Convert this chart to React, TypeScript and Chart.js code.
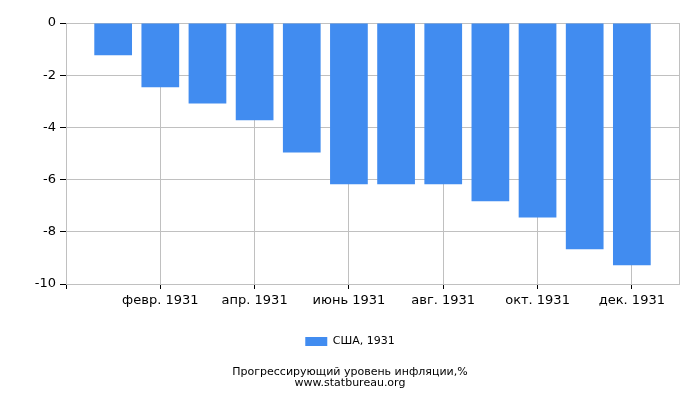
import { useEffect, useRef } from "react"
import { Chart, registerables } from "chart.js"

Chart.register(...registerables)

// monthly progressive inflation, USA 1931
const months = [
  "янв. 1931", "февр. 1931", "март 1931", "апр. 1931", "май 1931", "июнь 1931",
  "июль 1931", "авг. 1931", "сент. 1931", "окт. 1931", "нояб. 1931", "дек. 1931",
]
const inflation = [-1.24, -2.46, -3.08, -3.73, -4.96, -6.18, -6.18, -6.18, -6.83, -7.45, -8.67, -9.28]
const seriesName = "США, 1931"
const titleLines = ["Прогрессирующий уровень инфляции,%", "www.statbureau.org"]

const GRID = "#c0c0c0"
const FONT = "DejaVu Sans"

export default function App() {
  const chartRef = useRef<HTMLCanvasElement>(null)
  const chartInstance = useRef<Chart | null>(null)

  useEffect(() => {
    if (!chartRef.current) return
    if (chartInstance.current) chartInstance.current.destroy()
    const ctx = chartRef.current.getContext("2d")
    if (!ctx) return

    // empty slot on each side, like the original time axis
    const labels = ["", ...months, ""]
    const values = [null, ...inflation, null]
    const last = labels.length - 1

    chartInstance.current = new Chart(ctx, {
      type: "bar",
      data: {
        labels,
        datasets: [
          {
            label: seriesName,
            data: values,
            backgroundColor: "#418cf0",
            borderWidth: 0,
            barPercentage: 0.8,
            categoryPercentage: 1,
          },
        ],
      },
      options: {
        animation: false,
        responsive: false,
        layout: { padding: { left: 0, right: 0, top: 23, bottom: 0 } },
        scales: {
          x: {
            offset: false,
            border: { color: GRID },
            grid: {
              offset: false,
              tickLength: 5,
              color: (c) => (c.index !== 0 && (c.index % 2 === 0 || c.index === last) ? GRID : "rgba(0,0,0,0)"),
              tickColor: (c) => (c.index % 2 === 0 && c.index < last ? "#000" : "rgba(0,0,0,0)"),
            },
            ticks: {
              autoSkip: false,
              maxRotation: 0,
              padding: 4,
              color: "#000",
              font: { family: FONT, size: 13 },
              callback: (_v, i) => (i % 2 === 0 && i > 0 && i < last ? labels[i] : ""),
            },
            afterFit: (scale) => {
              scale.height = 42
            },
          },
          y: {
            min: -10,
            max: 0,
            border: { color: GRID },
            grid: { color: GRID, tickLength: 6, tickColor: "#000" },
            ticks: {
              stepSize: 2,
              padding: 4,
              color: "#000",
              font: { family: FONT, size: 13 },
            },
            afterFit: (scale) => {
              scale.width = 66
            },
          },
          // empty right axis, only to keep the right margin
          yRight: {
            position: "right",
            display: true,
            grid: { display: false, drawTicks: false },
            border: { display: false },
            ticks: { display: false },
            afterFit: (scale) => {
              scale.width = 21
            },
          },
        },
        plugins: {
          legend: {
            position: "bottom",
            labels: {
              boxWidth: 22,
              boxHeight: 9,
              padding: 10,
              color: "#000",
              font: { family: FONT, size: 11 },
            },
          },
          title: {
            display: true,
            position: "bottom",
            text: titleLines,
            color: "#000",
            font: { family: FONT, size: 11, weight: "normal", lineHeight: 1 },
            padding: { top: 10, bottom: 11 },
          },
          tooltip: { enabled: false },
        },
      },
    })

    return () => {
      if (chartInstance.current) chartInstance.current.destroy()
    }
  }, [])

  return (
    <div style={{ position: "fixed", left: 0, top: 0, width: 700, height: 400, background: "#fff" }}>
      <canvas ref={chartRef} width={700} height={400} />
    </div>
  )
}
